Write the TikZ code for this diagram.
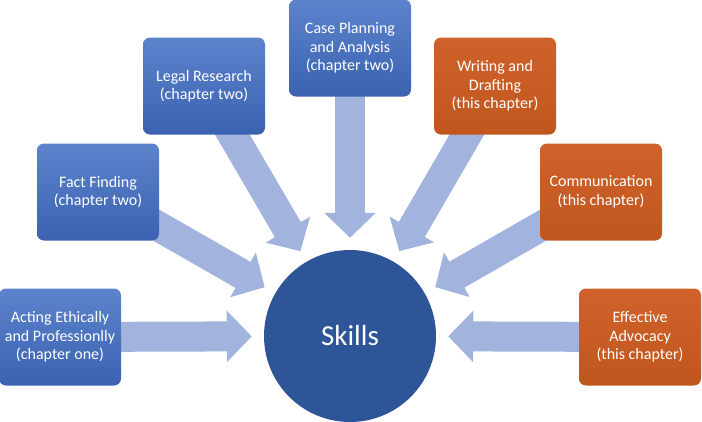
\documentclass[tikz,border=0pt]{standalone}
\usepackage{fontspec}
\setmainfont{Carlito}
\usetikzlibrary{arrows.meta}
\usetikzlibrary{backgrounds}
\definecolor{bluetop}{RGB}{93,131,204}
\definecolor{bluebot}{RGB}{58,98,176}
\definecolor{orangetop}{RGB}{207,98,42}
\definecolor{orangebot}{RGB}{192,86,30}
\definecolor{hubblue}{RGB}{46,85,151}
\definecolor{feedblue}{RGB}{162,180,221}
\tikzset{
    skillb/.style = {rectangle, rounded corners=7pt, minimum width=122pt, minimum height=97pt, align=center, text=white, top color=bluetop, bottom color=bluebot, font=\fontsize{16}{18.5}\selectfont},
    skillo/.style = {skillb, top color=orangetop, bottom color=orangebot}, % this chapter
    hub/.style = {circle, minimum size=172pt, fill=hubblue, text=white, font=\fontsize{29}{34}\selectfont},
    feed/.style = {-{Triangle[length=25pt,width=50pt]}, line width=30pt, draw=feedblue, shorten >=12pt, shorten <=-30pt}
}

\begin{document}
\begin{tikzpicture}[x=1pt,y=-1pt]
\useasboundingbox (0,0) rectangle (702,421);
\node[hub] at (350, 336) (skills) {Skills};

\node[skillb] at ( 60, 337) (acting) {Acting Ethically\\and Professionlly\\(chapter one)};
\node[skillb] at ( 98, 192) (fact) {Fact Finding\\(chapter two)};
\node[skillb] at (204,  86) (legal) {Legal Research\\(chapter two)};
\node[skillb] at (350,  48) (case) {Case Planning\\and Analysis\\(chapter two)};
\node[skillo] at (495,  86) (writing) {Writing and\\Drafting\\(this chapter)};
\node[skillo] at (601, 192) (comm) {Communication\\(this chapter)};
\node[skillo] at (640, 337) (advocacy) {Effective\\Advocacy\\(this chapter)};

\begin{scope}[on background layer]
\draw[feed] (acting) -- (skills);
\draw[feed] (fact) -- (skills);
\draw[feed] (legal) -- (skills);
\draw[feed] (case) -- (skills);
\draw[feed] (writing) -- (skills);
\draw[feed] (comm) -- (skills);
\draw[feed] (advocacy) -- (skills);
\end{scope}

\end{tikzpicture}
\end{document}
